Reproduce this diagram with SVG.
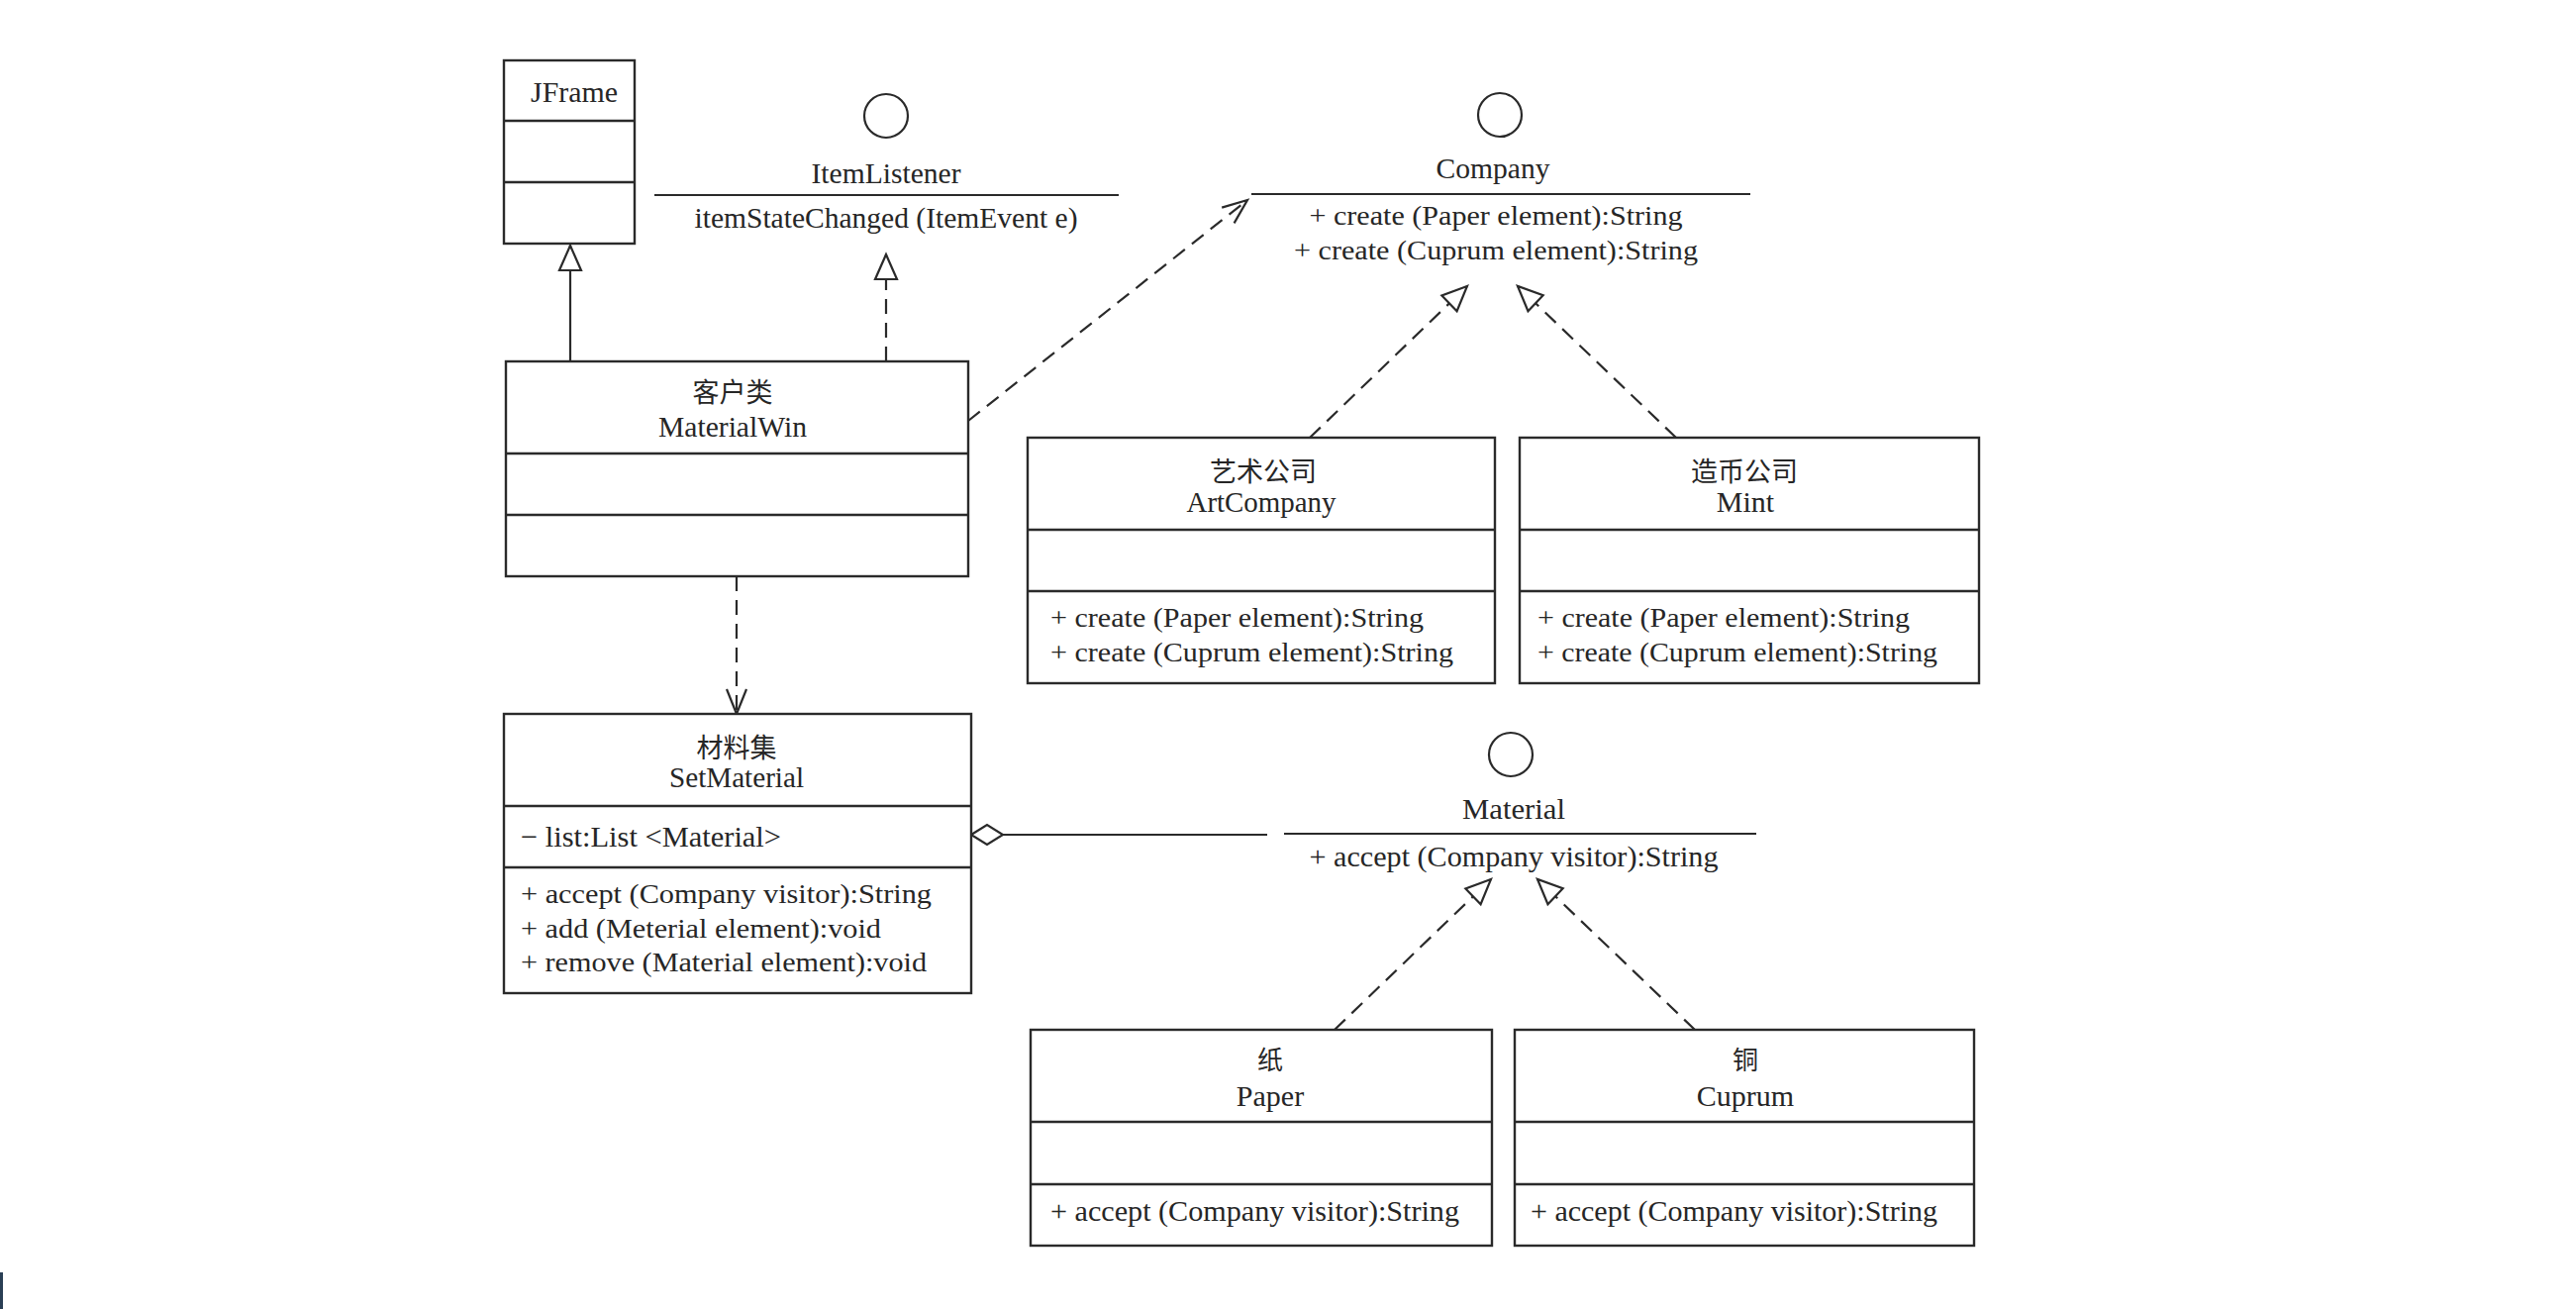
<svg xmlns="http://www.w3.org/2000/svg" width="2602" height="1322" viewBox="0 0 2602 1322">
<style>
.box{fill:#fff;stroke:#2a2a2a;stroke-width:2.4}
.div{stroke:#2a2a2a;stroke-width:2.4}
.ln{fill:none;stroke:#2a2a2a;stroke-width:2.2}
.dash{fill:none;stroke:#2a2a2a;stroke-width:2.2;stroke-dasharray:15 9}
.ifc{fill:none;stroke:#2a2a2a;stroke-width:2.2}
.t{font-family:"Liberation Serif","Times New Roman",serif;font-size:30px;fill:#262626}
.m{font-size:28px}
.c{text-anchor:middle}
.cjk{font-family:"Noto Sans CJK SC","Noto Sans CJK JP",sans-serif;font-size:27px;fill:#262626;text-anchor:middle}
.s{font-size:26px}
</style>
<defs>
<marker id="tri" markerUnits="userSpaceOnUse" markerWidth="30" markerHeight="26" refX="26" refY="12" orient="auto" overflow="visible">
<path d="M26,12 L1,1 L1,23 Z" fill="#fff" stroke="#2a2a2a" stroke-width="2.2" stroke-linejoin="miter"/>
</marker>
<marker id="open" markerUnits="userSpaceOnUse" markerWidth="30" markerHeight="24" refX="26" refY="11" orient="auto" overflow="visible">
<path d="M1,1 L26,11 L1,21" fill="none" stroke="#2a2a2a" stroke-width="2.2"/>
</marker>
<marker id="dia" markerUnits="userSpaceOnUse" markerWidth="34" markerHeight="22" refX="0" refY="10" orient="auto" overflow="visible">
<path d="M0,10 L16,0 L32,10 L16,20 Z" fill="#fff" stroke="#2a2a2a" stroke-width="2.2"/>
</marker>
</defs>
<rect width="2602" height="1322" fill="#fff"/>
<rect x="0" y="1285" width="3" height="37" fill="#2a3f55"/>

<g id="connectors">
<line class="ln" x1="576" y1="365" x2="576" y2="248" marker-end="url(#tri)"/>
<line class="dash" x1="895" y1="365" x2="895" y2="257" marker-end="url(#tri)"/>
<line class="dash" x1="978" y1="425" x2="1260" y2="202" marker-end="url(#open)"/>
<line class="dash" x1="744" y1="582" x2="744" y2="721" marker-end="url(#open)"/>
<line class="dash" x1="1323" y1="442" x2="1482" y2="289" marker-end="url(#tri)"/>
<line class="dash" x1="1693" y1="442" x2="1533" y2="289" marker-end="url(#tri)"/>
<line class="ln" x1="981" y1="843" x2="1280" y2="843" marker-start="url(#dia)"/>
<line class="dash" x1="1348" y1="1040" x2="1506" y2="888" marker-end="url(#tri)"/>
<line class="dash" x1="1712" y1="1040" x2="1553" y2="888" marker-end="url(#tri)"/>
</g>

<g id="JFrame">
<rect class="box" x="509" y="61" width="132" height="185"/>
<line class="div" x1="509" y1="122" x2="641" y2="122"/>
<line class="div" x1="509" y1="184" x2="641" y2="184"/>
<text class="t" x="536" y="103" textLength="88" lengthAdjust="spacingAndGlyphs">JFrame</text>
</g>

<g id="ItemListener">
<circle class="ifc" cx="895" cy="117" r="22"/>
<text class="t c" x="895" y="185" textLength="151" lengthAdjust="spacingAndGlyphs">ItemListener</text>
<line class="ifc" x1="661" y1="197" x2="1130" y2="197"/>
<text class="t c" x="895" y="230" textLength="387" lengthAdjust="spacingAndGlyphs">itemStateChanged (ItemEvent e)</text>
</g>

<g id="Company">
<circle class="ifc" cx="1515" cy="116" r="22"/>
<text class="t c" x="1508" y="180" textLength="115" lengthAdjust="spacingAndGlyphs">Company</text>
<line class="ifc" x1="1264" y1="196" x2="1768" y2="196"/>
<text class="t m c" x="1511" y="227" textLength="377" lengthAdjust="spacingAndGlyphs">+ create (Paper element):String</text>
<text class="t m c" x="1511" y="262" textLength="408" lengthAdjust="spacingAndGlyphs">+ create (Cuprum element):String</text>
</g>

<g id="MaterialWin">
<rect class="box" x="511" y="365" width="467" height="217"/>
<line class="div" x1="511" y1="458" x2="978" y2="458"/>
<line class="div" x1="511" y1="520" x2="978" y2="520"/>
<text class="cjk" x="740" y="406">客户类</text>
<text class="t c" x="740" y="441" textLength="150" lengthAdjust="spacingAndGlyphs">MaterialWin</text>
</g>

<g id="ArtCompany">
<rect class="box" x="1038" y="442" width="472" height="248"/>
<line class="div" x1="1038" y1="535" x2="1510" y2="535"/>
<line class="div" x1="1038" y1="597" x2="1510" y2="597"/>
<text class="cjk" x="1276" y="486">艺术公司</text>
<text class="t c" x="1274" y="517" textLength="151" lengthAdjust="spacingAndGlyphs">ArtCompany</text>
<text class="t m" x="1061" y="633" textLength="377" lengthAdjust="spacingAndGlyphs">+ create (Paper element):String</text>
<text class="t m" x="1061" y="668" textLength="407" lengthAdjust="spacingAndGlyphs">+ create (Cuprum element):String</text>
</g>

<g id="Mint">
<rect class="box" x="1535" y="442" width="464" height="248"/>
<line class="div" x1="1535" y1="535" x2="1999" y2="535"/>
<line class="div" x1="1535" y1="597" x2="1999" y2="597"/>
<text class="cjk" x="1762" y="486">造币公司</text>
<text class="t c" x="1763" y="517">Mint</text>
<text class="t m" x="1553" y="633" textLength="376" lengthAdjust="spacingAndGlyphs">+ create (Paper element):String</text>
<text class="t m" x="1553" y="668" textLength="404" lengthAdjust="spacingAndGlyphs">+ create (Cuprum element):String</text>
</g>

<g id="SetMaterial">
<rect class="box" x="509" y="721" width="472" height="282"/>
<line class="div" x1="509" y1="814" x2="981" y2="814"/>
<line class="div" x1="509" y1="876" x2="981" y2="876"/>
<text class="cjk" x="744" y="765">材料集</text>
<text class="t c" x="744" y="795" textLength="136" lengthAdjust="spacingAndGlyphs">SetMaterial</text>
<text class="t" x="526" y="855" textLength="263" lengthAdjust="spacingAndGlyphs">− list:List &lt;Material&gt;</text>
<text class="t m" x="526" y="912" textLength="415" lengthAdjust="spacingAndGlyphs">+ accept (Company visitor):String</text>
<text class="t m" x="526" y="947" textLength="364" lengthAdjust="spacingAndGlyphs">+ add (Meterial element):void</text>
<text class="t m" x="526" y="981" textLength="410" lengthAdjust="spacingAndGlyphs">+ remove (Material element):void</text>
</g>

<g id="Material">
<circle class="ifc" cx="1526" cy="762" r="22"/>
<text class="t c" x="1529" y="827" textLength="104" lengthAdjust="spacingAndGlyphs">Material</text>
<line class="ifc" x1="1297" y1="842" x2="1774" y2="842"/>
<text class="t c" x="1529" y="875" textLength="413" lengthAdjust="spacingAndGlyphs">+ accept (Company visitor):String</text>
</g>

<g id="Paper">
<rect class="box" x="1041" y="1040" width="466" height="218"/>
<line class="div" x1="1041" y1="1133" x2="1507" y2="1133"/>
<line class="div" x1="1041" y1="1196" x2="1507" y2="1196"/>
<text class="cjk s" x="1283" y="1080">纸</text>
<text class="t c" x="1283" y="1117">Paper</text>
<text class="t" x="1061" y="1233" textLength="413" lengthAdjust="spacingAndGlyphs">+ accept (Company visitor):String</text>
</g>

<g id="Cuprum">
<rect class="box" x="1530" y="1040" width="464" height="218"/>
<line class="div" x1="1530" y1="1133" x2="1994" y2="1133"/>
<line class="div" x1="1530" y1="1196" x2="1994" y2="1196"/>
<text class="cjk s" x="1763" y="1080">铜</text>
<text class="t c" x="1763" y="1117">Cuprum</text>
<text class="t" x="1546" y="1233" textLength="411" lengthAdjust="spacingAndGlyphs">+ accept (Company visitor):String</text>
</g>
</svg>
